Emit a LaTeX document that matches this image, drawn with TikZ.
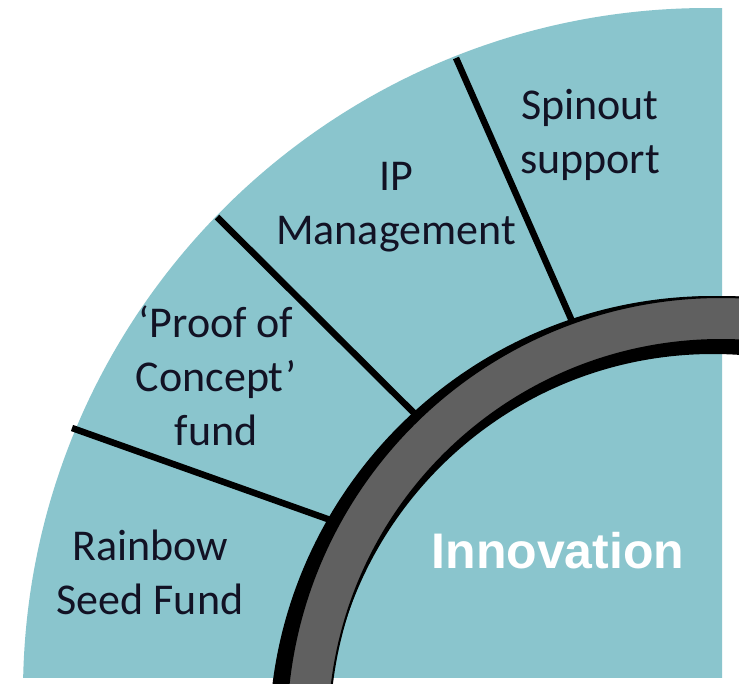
\documentclass[tikz,border=0pt]{standalone}
\usepackage{fontspec}
\setmainfont{Carlito}
\newfontfamily\innofont{Liberation Sans}
\definecolor{tealbg}{RGB}{138,197,205}
\definecolor{ringgray}{RGB}{96,96,96}
\definecolor{txt}{RGB}{18,18,36}
\tikzset{
  divider/.style={line width=6.5pt, line cap=butt, draw=black},
  lbl/.style={align=center, text=txt, inner sep=0pt, font=\fontsize{44}{54}\selectfont},
  inno/.style={text=white, inner sep=0pt, font=\innofont\bfseries\fontsize{50}{60}\selectfont}
}
\begin{document}
\begin{tikzpicture}[x=1pt,y=-1pt]
\useasboundingbox (0,0) rectangle (739,683);
\clip (0,0) rectangle (739,683);
\fill[white] (0,0) rectangle (739,683);
% teal quarter disk
\begin{scope}
  \clip (0,0) rectangle (722,677);
  \fill[tealbg] (708,693) circle (685);
\end{scope}
% dividers
\coordinate (d1a) at (72,428);   \coordinate (d1b) at (336,522);
\coordinate (d2a) at (217,217);  \coordinate (d2b) at (424,423);
\coordinate (d3a) at (456,58);   \coordinate (d3b) at (579,337);
\draw[divider] (d1a) -- (d1b);
\draw[divider] (d2a) -- (d2b);
\draw[divider] (d3a) -- (d3b);
% ring with shadow
\fill[black, even odd rule] (713,740) circle (444) (713,740) circle (386);
\filldraw[fill=ringgray, draw=black, line width=2pt, even odd rule]
  (721,732) circle (435) (721,732) circle (392);
% labels
\node[lbl] (spin) at (590,135) {Spinout\\support};
\node[lbl] (ip) at (396,207) {IP\\Management};
\node[lbl] (poc) at (216,376) {‘Proof of\\Concept’\\fund};
\node[lbl] (rsf) at (150,572) {Rainbow\\Seed Fund};
\node[inno] (innov) at (558,551) {Innovation};
\end{tikzpicture}
\end{document}
